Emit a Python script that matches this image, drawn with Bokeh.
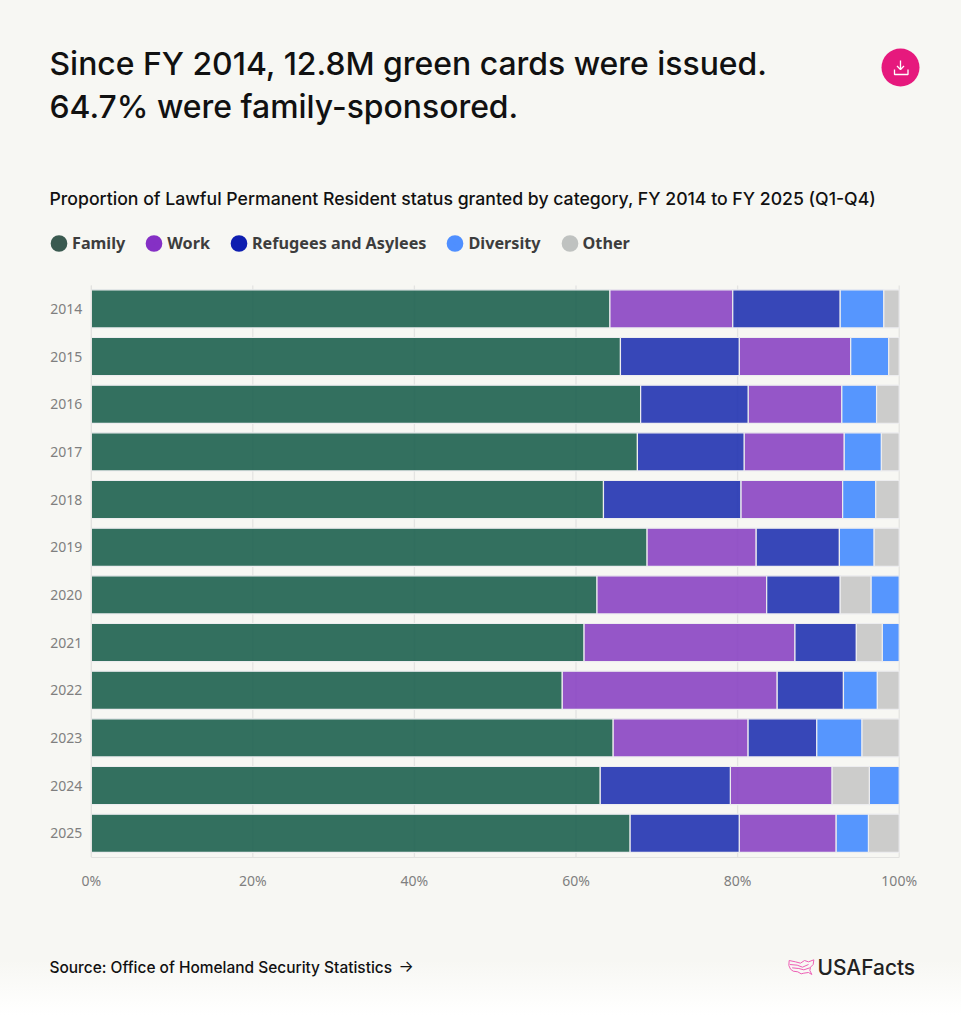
from bokeh.plotting import figure
from bokeh.embed import file_html
from bokeh.resources import INLINE
from bokeh.models import (Label, Legend, LegendItem, FixedTicker, PrintfTickFormatter,
                          LinearAxis, Range1d, ColumnDataSource)

years = ["2014","2015","2016","2017","2018","2019","2020","2021","2022","2023","2024","2025"]
family    = [64.2,65.5,68.0,67.6,63.4,68.8,62.6,61.0,58.3,64.6,63.0,66.7]
work      = [15.2,13.8,11.6,12.4,12.6,13.5,21.0,26.1,26.6,16.7,12.6,12.0]
refugees  = [13.3,14.7,13.3,13.2,17.0,10.3, 9.1, 7.6, 8.2, 8.5,16.1,13.5]
diversity = [ 5.4, 4.7, 4.3, 4.6, 4.1, 4.3, 3.5, 2.1, 4.2, 5.6, 3.7, 4.0]
other     = [ 1.9, 1.3, 2.8, 2.2, 2.9, 3.1, 3.8, 3.2, 2.7, 4.6, 4.6, 3.8]
stack_order = [
 ["Family","Work","Refugees and Asylees","Diversity","Other"],
 ["Family","Refugees and Asylees","Work","Diversity","Other"],
 ["Family","Refugees and Asylees","Work","Diversity","Other"],
 ["Family","Refugees and Asylees","Work","Diversity","Other"],
 ["Family","Refugees and Asylees","Work","Diversity","Other"],
 ["Family","Work","Refugees and Asylees","Diversity","Other"],
 ["Family","Work","Refugees and Asylees","Other","Diversity"],
 ["Family","Work","Refugees and Asylees","Other","Diversity"],
 ["Family","Work","Refugees and Asylees","Diversity","Other"],
 ["Family","Work","Refugees and Asylees","Diversity","Other"],
 ["Family","Refugees and Asylees","Work","Other","Diversity"],
 ["Family","Refugees and Asylees","Work","Diversity","Other"],
]
series = {"Family":family,"Work":work,"Refugees and Asylees":refugees,"Diversity":diversity,"Other":other}
bar_colors = {"Family":"#1D614F","Work":"#8A44C3","Refugees and Asylees":"#2133B1","Diversity":"#448BFF","Other":"#C6C6C6"}
key_colors = {"Family":"#3A5A50","Work":"#8530C5","Refugees and Asylees":"#0E1EB0","Diversity":"#4F8FFF","Other":"#BFC2C0"}
x_ticks = [0,20,40,60,80,100]
title_lines = ["Since FY 2014, 12.8M green cards were issued.","64.7% were family-sponsored."]
subtitle = "Proportion of Lawful Permanent Resident status granted by category, FY 2014 to FY 2025 (Q1-Q4)"
source = "Source: Office of Homeland Security Statistics"

W, H = 961, 1024
X0, PX = 90.7, 8.08        # page x of 0 %, pixels per %
Y0, PY = 308.4, 47.667     # page y of the first row, pixels per row
X = lambda x: (x - X0) / PX
Y = lambda y: (y - Y0) / PY

p = figure(width=W, height=H, output_backend="svg", toolbar_location=None,
           x_range=Range1d(X(0), X(W)), y_range=Range1d(Y(H), Y(0)),
           x_axis_location=None, y_axis_location=None,
           min_border=0, min_border_left=0, min_border_right=0, min_border_top=0, min_border_bottom=0,
           background_fill_alpha=0, border_fill_alpha=0, outline_line_color=None)
p.grid.visible = False

row_top, row_bottom = -0.5, len(years) - 0.5
p.segment(x0=x_ticks, x1=x_ticks, y0=[Y(285)]*len(x_ticks), y1=[row_bottom]*len(x_ticks),
          line_color="#E4E4E2", line_width=1.3)

for name in series:
    l, r, y = [], [], []
    for i, yr in enumerate(years):
        start = 0.0
        for s in stack_order[i]:
            v = series[s][i]
            if s == name:
                l.append(start); r.append(start+v); y.append(i)
            start += v
    src = ColumnDataSource(dict(y=y,left=l,right=r))
    p.hbar(y="y", left="left", right="right", height=0.8, source=src,
           fill_color=bar_colors[name], fill_alpha=0.9, line_color="#EDEDEF", line_width=1.2)

xaxis = LinearAxis(fixed_location=row_bottom, bounds=(0,100), ticker=FixedTicker(ticks=x_ticks),
                   formatter=PrintfTickFormatter(format="%d%%"), major_label_standoff=8)
yaxis = LinearAxis(fixed_location=0, bounds=(row_top,row_bottom), ticker=FixedTicker(ticks=list(range(len(years)))),
                   major_label_overrides={i: yr for i, yr in enumerate(years)}, major_label_standoff=3)
for ax in (xaxis, yaxis):
    ax.major_tick_line_color = None
    ax.minor_tick_line_color = None
    ax.axis_line_color = "#E2E2E0"
    ax.major_label_text_color = "#7F7F7F"
    ax.major_label_text_font = "Noto Sans"
    ax.major_label_text_font_size = "14px"
p.add_layout(xaxis, "below")
p.add_layout(yaxis, "left")

# Legend: its keys are round markers parked off the page (legend keys scale with the box, so a thick edge enlarges them)
items = []
for name in series:
    r = p.scatter(x=[X(-100)], y=[Y(-100)], size=16, marker="circle", fill_color=key_colors[name],
                  line_color=key_colors[name], line_width=9.5)
    items.append(LegendItem(label=name, renderers=[r]))
leg = Legend(items=items, orientation="horizontal", location=(49, H-254), margin=0, padding=0,
             background_fill_alpha=0, border_line_color=None,
             glyph_width=19, glyph_height=18, label_standoff=4, spacing=19,
             label_text_font="Noto Sans", label_text_font_style="bold",
             label_text_font_size="16.2px", label_text_color="#3D3D3D", label_height=18)
p.add_layout(leg, "center")

def text(x, ytop, s, size, color="#111111", font="Inter", style="normal"):
    p.add_layout(Label(x=x, y=H-ytop, x_units="screen", y_units="screen", text=s, text_font=font,
                       text_font_size=f"{size}px", text_color=color, text_font_style=style,
                       text_baseline="top", text_align="left"))

text(49, 43.3, title_lines[0], 31.9, font="Inter Medium, Inter")
text(49, 86.8, title_lines[1], 31.9, font="Inter Medium, Inter")
text(49, 187.5, subtitle, 17.67, font="Inter Medium, Inter")
text(49, 957.5, source, 15.46, font="Inter Medium, Inter")
text(398, 955, "\u2192", 16)
text(817, 954.3, "USAFacts", 20.9, "#222222", font="Inter Medium, Inter")

def stroke(pts, color, lw=1.2):
    p.line([X(a) for a,b in pts], [Y(b) for a,b in pts], line_color=color, line_width=lw)

# Download button
p.scatter([X(900)], [Y(67)], size=38, marker="circle", fill_color="#E6197D", line_color=None)
for pts in ([(900,60),(900,69)], [(896.5,65.5),(900,69),(903.5,65.5)], [(894,69),(894,74),(907.5,74),(907.5,69)]):
    stroke(pts, "#FFFFFF", 1.3)

# USAFacts logo mark (zoom-crop pixels: origin 780,950, scale 3)
logo = [
 [(26,30),(45,34),(60,38),(72,30),(84,34),(100,28),(98,42),(90,50),(88,60),(94,72),(84,66),(70,68),(62,70),(52,64),(38,62),(30,56),(25,45),(26,30)],
 [(28,42),(50,44),(66,50),(84,42)],
 [(35,52),(55,54),(70,58),(88,52)],
]
for pts in logo:
    stroke([(780+a/3, 950+b/3) for a,b in pts], "#EE5FB5", 1.0)

html = file_html(p, INLINE).replace("</head>",
    "<style>html{min-height:100%;background:linear-gradient(#F7F7F3 0,#F7F7F3 960px,#FFFFFF 1015px);}"
    "body{background:transparent;}</style></head>")
open("out.html", "w").write(html)
